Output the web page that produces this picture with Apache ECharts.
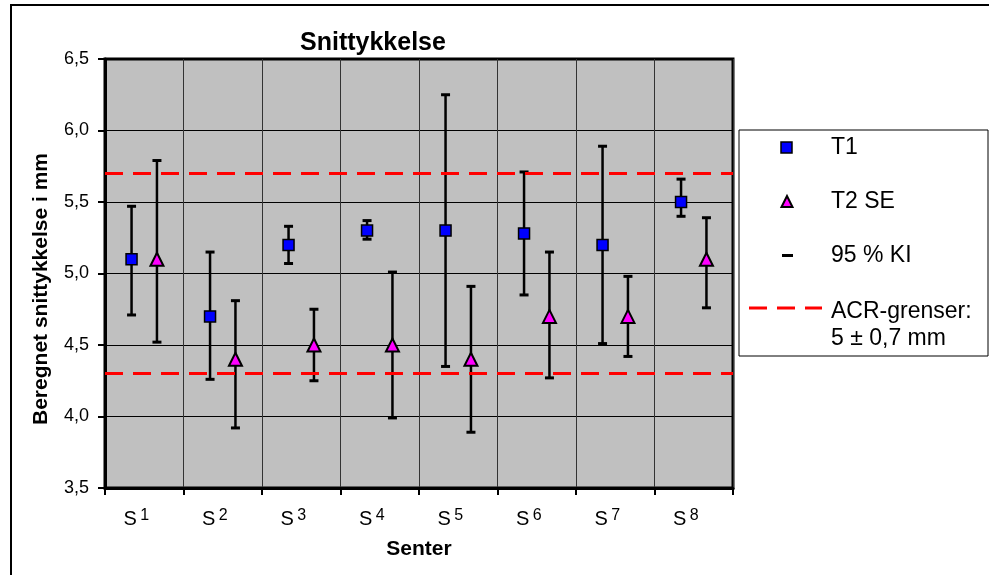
<!DOCTYPE html>
<html>
<head>
<meta charset="utf-8">
<title>Snittykkelse</title>
<script src="https://cdn.jsdelivr.net/npm/echarts@6/dist/echarts.min.js"></script>
<style>
  html, body { margin: 0; padding: 0; background: #fff; }
  #chart { width: 989px; height: 575px; }
</style>
</head>
<body>
<div id="chart"></div>
<script>
// kategorier (senter)
const centers = ['S 1', 'S 2', 'S 3', 'S 4', 'S 5', 'S 6', 'S 7', 'S 8']
// T1 middelverdi og 95 % KI
const t1 = [5.1, 4.7, 5.2, 5.3, 5.3, 5.28, 5.2, 5.5]
const t1Low = [4.71, 4.26, 5.07, 5.24, 4.35, 4.85, 4.51, 5.40]
const t1High = [5.47, 5.15, 5.33, 5.37, 6.25, 5.71, 5.89, 5.66]
// T2 SE middelverdi og 95 % KI
const t2 = [5.1, 4.4, 4.5, 4.5, 4.4, 4.7, 4.7, 5.1]
const t2Low = [4.52, 3.92, 4.25, 3.99, 3.89, 4.27, 4.42, 4.76]
const t2High = [5.79, 4.81, 4.75, 5.01, 4.91, 5.15, 4.98, 5.39]
// ACR-grenser: 5 +- 0,7 mm
const acrLimits = [5.7, 4.3]
const yTicks = { min: 3.5, max: 6.5, step: 0.5 }

const FONT = "'Liberation Sans', Arial, sans-serif"
const OFFSET = 12.7

function ciData(low, high) {
    return centers.map((c, i) => [i, low[i], high[i]])
}

// tegner feilstolper forskjøvet fra kategorimidten
function errorBars(offset) {
    return function (params, api) {
        const p1 = api.coord([api.value(0), api.value(1)])
        const p2 = api.coord([api.value(0), api.value(2)])
        const x = p1[0] + offset
        const cap = 4.5
        return {
            type: 'group',
            children: [
                { type: 'line', shape: { x1: x, y1: p1[1], x2: x, y2: p2[1] }, style: { stroke: '#000', lineWidth: 2.5 } },
                { type: 'line', shape: { x1: x - cap, y1: p2[1], x2: x + cap, y2: p2[1] }, style: { stroke: '#000', lineWidth: 3 } },
                { type: 'line', shape: { x1: x - cap, y1: p1[1], x2: x + cap, y2: p1[1] }, style: { stroke: '#000', lineWidth: 3 } }
            ]
        }
    }
}

const chart = echarts.init(document.getElementById('chart'), null, { renderer: 'canvas' })

const option = {
    animation: false,
    backgroundColor: '#fff',
    textStyle: { fontFamily: FONT },
    title: {
        text: 'Snittykkelse',
        left: 300,
        top: 31,
        padding: 0,
        textStyle: { fontFamily: FONT, fontSize: 25, fontWeight: 'bold', color: '#000' }
    },
    grid: {
        left: 105, top: 59, width: 628, height: 429,
        show: true, backgroundColor: '#c0c0c0', borderColor: '#000', borderWidth: 3
    },
    xAxis: {
        type: 'category',
        data: centers,
        boundaryGap: true,
        name: 'Senter',
        nameLocation: 'middle',
        nameGap: 51,
        nameTextStyle: { fontFamily: FONT, fontSize: 21, fontWeight: 'bold', color: '#000' },
        axisLine: { lineStyle: { color: '#000', width: 3 } },
        axisTick: { show: true, length: 7, lineStyle: { color: '#000', width: 2 } },
        splitLine: { show: true, lineStyle: { color: '#333', width: 1 } },
        axisLabel: {
            margin: 20,
            padding: [0, 16, 0, 0],
            formatter: v => '{s|S} {n|' + v.split(' ')[1] + '}',
            rich: {
                s: { fontFamily: FONT, fontSize: 20, color: '#000' },
                n: { fontFamily: FONT, fontSize: 16, color: '#000', padding: [0, 0, 6, 0] }
            }
        }
    },
    yAxis: {
        type: 'value',
        min: yTicks.min,
        max: yTicks.max,
        interval: yTicks.step,
        axisLine: { show: true, lineStyle: { color: '#000', width: 3 } },
        axisTick: { show: true, length: 7, lineStyle: { color: '#000', width: 2 } },
        splitLine: { show: true, lineStyle: { color: '#000', width: 1 } },
        axisLabel: {
            margin: 16,
            fontFamily: FONT,
            fontSize: 18,
            color: '#000',
            formatter: v => v.toFixed(1).replace('.', ',')
        }
    },
    series: [
        {
            name: 'ACR-grenser',
            type: 'line',
            data: [],
            markLine: {
                silent: true,
                symbol: 'none',
                label: { show: false },
                lineStyle: { color: '#ff0000', width: 3, type: [18, 10] },
                data: acrLimits.map(v => ({ yAxis: v }))
            },
            z: 3
        },
        {
            name: '95 % KI T1',
            type: 'custom',
            renderItem: errorBars(-OFFSET),
            encode: { x: 0, y: [1, 2] },
            data: ciData(t1Low, t1High),
            z: 4
        },
        {
            name: '95 % KI T2',
            type: 'custom',
            renderItem: errorBars(OFFSET),
            encode: { x: 0, y: [1, 2] },
            data: ciData(t2Low, t2High),
            z: 4
        },
        {
            name: 'T1',
            type: 'scatter',
            data: t1,
            symbol: 'rect',
            symbolSize: 11,
            symbolOffset: [-OFFSET, 0],
            itemStyle: { color: '#0000ff', borderColor: '#000', borderWidth: 1.5, opacity: 1 },
            z: 5
        },
        {
            name: 'T2 SE',
            type: 'scatter',
            data: t2,
            symbol: 'triangle',
            symbolSize: [13, 13],
            symbolOffset: [OFFSET, 0],
            itemStyle: { color: '#ff00ff', borderColor: '#000', borderWidth: 2, opacity: 1 },
            z: 5
        }
    ],
    graphic: [
        // ytre ramme
        { type: 'rect', shape: { x: 11, y: 5, width: 1100, height: 700 }, style: { fill: 'none', stroke: '#000', lineWidth: 2 }, silent: true },
        // y-aksetittel
        {
            type: 'text', x: 41, y: 289, rotation: Math.PI / 2,
            style: { text: 'Beregnet snittykkelse i mm', fontFamily: FONT, fontSize: 21, fontWeight: 'bold', fill: '#000', align: 'center', verticalAlign: 'middle' }
        },
        // tegnforklaring
        { type: 'rect', shape: { x: 739, y: 130, width: 249, height: 226 }, style: { fill: '#fff', stroke: '#000', lineWidth: 1 } },
        { type: 'rect', shape: { x: 781, y: 142, width: 11, height: 11 }, style: { fill: '#0000ff', stroke: '#000', lineWidth: 1.5 } },
        { type: 'text', x: 831, y: 148, style: { text: 'T1', fontFamily: FONT, fontSize: 23, fill: '#000', verticalAlign: 'middle' } },
        { type: 'polygon', shape: { points: [[787, 196], [781.5, 207], [792.5, 207]] }, style: { fill: '#ff00ff', stroke: '#000', lineWidth: 2 } },
        { type: 'text', x: 831, y: 202, style: { text: 'T2 SE', fontFamily: FONT, fontSize: 23, fill: '#000', verticalAlign: 'middle' } },
        { type: 'rect', shape: { x: 782, y: 254, width: 11, height: 3 }, style: { fill: '#000' } },
        { type: 'text', x: 831, y: 256, style: { text: '95 % KI', fontFamily: FONT, fontSize: 23, fill: '#000', verticalAlign: 'middle' } },
        { type: 'line', shape: { x1: 749, y1: 308, x2: 822, y2: 308 }, style: { stroke: '#ff0000', lineWidth: 3, lineDash: [18, 10] } },
        { type: 'text', x: 831, y: 312, style: { text: 'ACR-grenser:', fontFamily: FONT, fontSize: 23, fill: '#000', verticalAlign: 'middle' } },
        { type: 'text', x: 831, y: 339, style: { text: '5 ± 0,7 mm', fontFamily: FONT, fontSize: 23, fill: '#000', verticalAlign: 'middle' } }
    ]
}

chart.setOption(option)
</script>
</body>
</html>
